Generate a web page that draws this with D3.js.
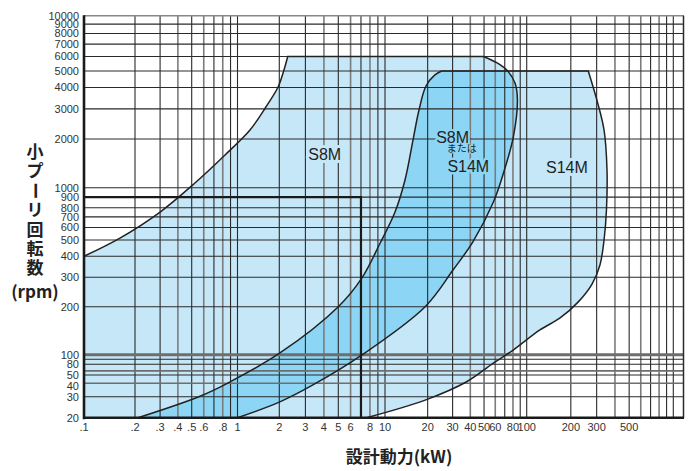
<!DOCTYPE html>
<html>
<meta charset="utf-8">
<title>設計動力と小プーリ回転数</title>
<style>
    body { margin: 0; background: #fff; }
    text { font-family: "Liberation Sans", Arial, sans-serif; }
    .tick { font-size: 11px; fill: #333; }
    .bound { fill: none; stroke: #222; stroke-width: 1.5px; }
    .atitle { font-family: "Noto Sans CJK JP", sans-serif; font-weight: bold; font-size: 17px; fill: #222; }
    .zone { fill: #222; paint-order: stroke; stroke-linejoin: round; }
</style>
<script src="https://d3js.org/d3.v7.min.js"></script>
<body>
<script>
    // grid and tick values
    const xGridDark = [0.2, 0.3, 0.5, 0.7, 0.9, 1, 2, 3, 5, 7, 9, 10, 20, 30, 50, 70, 90, 100, 200, 300, 500, 700, 900, 1000]
    const xGridGray = [0.4, 0.6, 0.8, 4, 6, 8, 40, 60, 80, 400, 600, 800]
    const xLabels = [0.1, 0.2, 0.3, 0.4, 0.5, 0.6, 0.8, 1, 2, 3, 4, 5, 6, 8, 10, 20, 30, 40, 50, 60, 80, 100, 200, 300, 500]
    const yGridDark = [30, 50, 80, 90, 200, 300, 400, 500, 600, 700, 800, 900, 1000, 2000, 3000, 4000, 5000, 6000, 7000, 8000, 9000]
    const yGridGray = [40, 60, 100]
    const yLabels = [20, 30, 40, 50, 80, 100, 200, 300, 400, 500, 600, 700, 800, 900, 1000, 2000, 3000, 4000, 5000, 6000, 7000, 8000, 9000, 10000]

    // boundary curves [kW, rpm]
    const s8mUpper = [[0.1, 400], [0.163, 514], [0.3, 751], [0.525, 1069], [0.828, 1593], [1.23, 2258], [1.6, 3078], [1.96, 4030], [2.15, 5063], [2.28, 6000]]
    const s8mLower = [[49.4, 6000], [61.4, 5550], [72.3, 5060], [82.8, 4240], [86, 3380], [80.5, 2060], [68.5, 1230], [58.1, 850], [41.8, 489], [30.2, 331], [19.2, 200], [7.07, 99], [3.37, 38.6], [2, 27], [1, 20]]
    const s14mUpper = [[0.21, 20], [0.557, 30], [0.857, 40], [2.02, 102.5], [5, 200], [7.07, 295], [9.29, 478], [11.77, 751], [13.84, 1116], [15.76, 1971], [17.38, 2958], [19.47, 4086], [22.5, 4743], [25.1, 5000]]
    const s14mLower = [[263, 5000], [301, 3380], [337, 2258], [353, 1286], [350, 773], [337, 500], [316, 355], [279, 273], [224, 213], [169, 170], [123, 143], [80.4, 107], [58.1, 82], [37.7, 41.7], [19.2, 28.1], [7.6, 20]]
    const example = [[0.1, 900], [7, 900], [7, 20]]

    const zoneLabels = [
        { text: "S8M", at: [4.05, 1600], size: 16, bg: "#c6e7f7", halo: 6 },
        { text: "S8M", at: [30, 2060], size: 16, bg: "#8cd5f4", halo: 4 },
        { text: "S14M", at: [38.7, 1360], size: 16, bg: "#8cd5f4", halo: 5 },
        { text: "または", at: [34.8, 1750], size: 10, bg: "#8cd5f4", halo: 2, jp: true },
        { text: "S14M", at: [188, 1343], size: 16, bg: "#c6e7f7", halo: 6 },
    ]
    const yTitle = ["小", "プ", "ー", "リ", "回", "転", "数"]

    const svg = d3.select("body").append("svg").attr("width", 688).attr("height", 471)

    // hand drafted log axes: piecewise log scales
    const x = d3.scaleLog()
        .domain([0.1, 0.2, 0.5, 1, 2, 5, 10, 100, 1000, 1180])
        .range([84, 135, 191.7, 237.5, 279.3, 338.3, 385, 526.7, 673.3, 684])
    const y = d3.scaleLog()
        .domain([20, 30, 40, 50, 80, 100, 200, 500, 800, 1000, 2000, 5000, 10000])
        .range([417.7, 396.7, 383.3, 375, 364.3, 354.7, 306.7, 240, 207.7, 187.7, 139, 71, 15.7])

    const curve = d3.line().x(d => x(d[0])).y(d => y(d[1])).curve(d3.curveCatmullRom.alpha(0.5))
    const straight = d3.line().x(d => x(d[0])).y(d => y(d[1]))
    const cont = pts => curve(pts).replace(/^M/, "L")

    const s8mEdge = curve(s8mUpper) + cont(s8mLower)
    const s14mEdge = curve(s14mUpper) + cont(s14mLower)
    const s8mArea = straight([[0.1, 20]]) + cont(s8mUpper) + cont(s8mLower) + "Z"
    const s14mArea = s14mEdge + "Z"

    svg.append("defs").append("clipPath").attr("id", "clip8")
        .append("path").attr("d", s8mArea)

    svg.append("path").attr("d", s8mArea).attr("fill", "#c6e7f7")
    svg.append("path").attr("d", s14mArea).attr("fill", "#c6e7f7")
    svg.append("path").attr("d", s14mArea).attr("fill", "#8cd5f4").attr("clip-path", "url(#clip8)")

    // grid
    const grid = svg.append("g")
    const [x0, x1] = [x(0.1), x(1180)]
    const [y0, y1] = [y(20), y(10000)]
    grid.selectAll(".vg").data(xGridGray).join("line")
        .attr("x1", d => x(d)).attr("x2", d => x(d)).attr("y1", y0).attr("y2", y1)
        .attr("stroke", "#7c7c7c").attr("stroke-width", 1.6)
    grid.selectAll(".vd").data(xGridDark).join("line")
        .attr("x1", d => x(d)).attr("x2", d => x(d)).attr("y1", y0).attr("y2", y1)
        .attr("stroke", "#2a2a2a").attr("stroke-width", 1.1)
    grid.selectAll(".hg").data(yGridGray).join("line")
        .attr("y1", d => y(d)).attr("y2", d => y(d)).attr("x1", x0).attr("x2", x1)
        .attr("stroke", "#6e6e6e").attr("stroke-width", d => d === 100 ? 3 : 1.6)
    grid.selectAll(".hd").data(yGridDark).join("line")
        .attr("y1", d => y(d)).attr("y2", d => y(d)).attr("x1", x0).attr("x2", x1)
        .attr("stroke", "#2a2a2a").attr("stroke-width", 1.1)

    // frame
    svg.append("line").attr("x1", x0).attr("x2", x1).attr("y1", y1).attr("y2", y1)
        .attr("stroke", "#888").attr("stroke-width", 1.5)
    svg.append("line").attr("x1", x1 - 0.5).attr("x2", x1 - 0.5).attr("y1", y1).attr("y2", y0)
        .attr("stroke", "#2a2a2a").attr("stroke-width", 1.5)

    // boundaries
    svg.append("path").attr("class", "bound").attr("d", s8mEdge)
    svg.append("path").attr("class", "bound").attr("d", s14mEdge)
    svg.append("path").attr("d", straight(example)).attr("fill", "none")
        .attr("stroke", "#1a1a1a").attr("stroke-width", 2.2)

    svg.append("line").attr("x1", x0).attr("x2", x0).attr("y1", y1 - 0.5).attr("y2", y0 + 1.5)
        .attr("stroke", "#1a1a1a").attr("stroke-width", 2.6)
    svg.append("line").attr("x1", x0 - 1).attr("x2", x1).attr("y1", y0).attr("y2", y0)
        .attr("stroke", "#1a1a1a").attr("stroke-width", 2.6)

    // tick labels
    const fmt = d => d < 1 ? String(d).replace(/^0/, "") : String(d)
    svg.append("g").selectAll("text").data(xLabels).join("text")
        .attr("class", "tick").attr("x", d => x(d)).attr("y", 427).attr("dy", "0.35em")
        .attr("text-anchor", "middle").text(fmt)
    svg.append("g").selectAll("text").data(yLabels).join("text")
        .attr("class", "tick").attr("x", 79).attr("y", d => y(d) + (d === 40 ? 3 : 0)).attr("dy", "0.35em")
        .attr("text-anchor", "end").text(d => d)

    // zone labels
    svg.append("g").selectAll("text").data(zoneLabels).join("text")
        .attr("class", "zone")
        .attr("x", d => x(d.at[0])).attr("y", d => y(d.at[1])).attr("dy", "0.36em")
        .attr("text-anchor", "middle")
        .style("font-size", d => d.size + "px")
        .style("font-family", d => d.jp ? '"Noto Sans CJK JP", sans-serif' : null)
        .attr("stroke", d => d.bg)
        .attr("stroke-width", d => d.halo)
        .text(d => d.text)

    // axis titles
    svg.append("text").attr("class", "atitle").attr("x", 399).attr("y", 457)
        .attr("dy", "0.35em").attr("text-anchor", "middle").text("設計動力(kW)")
    svg.append("g").selectAll("text").data(yTitle).join("text")
        .attr("class", "atitle").attr("text-anchor", "middle").attr("dy", "0.35em")
        .attr("x", 35).attr("y", (d, i) => 152 + i * 19.4)
        .attr("transform", (d, i) => d === "ー" ? `rotate(90,35,${152 + i * 19.4})` : null)
        .text(d => d)
    svg.append("text").attr("class", "atitle").attr("x", 35).attr("y", 292)
        .attr("dy", "0.35em").attr("text-anchor", "middle").text("(rpm)")
</script>
</body>
</html>
